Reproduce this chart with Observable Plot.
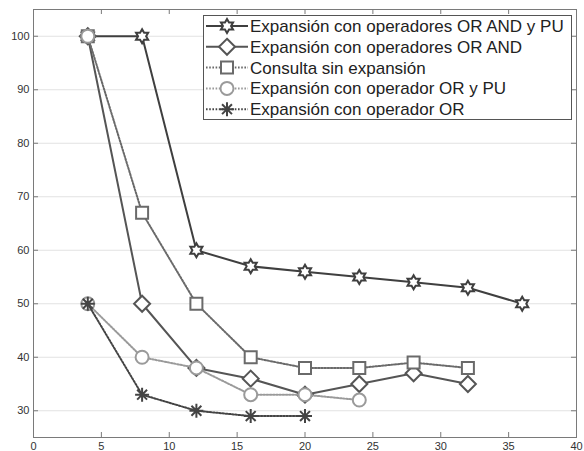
<!DOCTYPE html>
<html><head><meta charset="utf-8">
<script src="https://cdn.jsdelivr.net/npm/d3@7"></script>
<script src="https://cdn.jsdelivr.net/npm/@observablehq/plot@0.6"></script>
<style>
body{margin:0;background:#fff}
#chart{width:584px;height:451px}
</style>
</head><body><div id="chart"></div>
<script>
// ---- data ----
const xTicks = [0, 5, 10, 15, 20, 25, 30, 35, 40];
const yTicks = [30, 40, 50, 60, 70, 80, 90, 100];
const seriesNames = [
  "Expansión con operadores OR AND y PU",
  "Expansión con operadores OR AND",
  "Consulta sin expansión",
  "Expansión con operador OR y PU",
  "Expansión con operador OR"
];
const xStar = [4, 8, 12, 16, 20, 24, 28, 32, 36];
const yStar = [100, 100, 60, 57, 56, 55, 54, 53, 50];
const xDiamond = [4, 8, 12, 16, 20, 24, 28, 32];
const yDiamond = [100, 50, 38, 36, 33, 35, 37, 35];
const xSquare = [4, 8, 12, 16, 20, 24, 28, 32];
const ySquare = [100, 67, 50, 40, 38, 38, 39, 38];
const xCircle = [4, 8, 12, 16, 20, 24];
const yCircle = [50, 40, 38, 33, 33, 32];
const xCircleExtra = [4];
const yCircleExtra = [100];
const xAsterisk = [4, 8, 12, 16, 20];
const yAsterisk = [50, 33, 30, 29, 29];

// ---- symbols ----
const hexagram = {draw(ctx, size) {
  const R = Math.sqrt(size / Math.PI), r = R / Math.sqrt(3);
  for (let k = 0; k < 12; k++) {
    const a = -Math.PI / 2 + k * Math.PI / 6, rad = k % 2 ? r : R;
    const px = rad * Math.cos(a), py = rad * Math.sin(a);
    k ? ctx.lineTo(px, py) : ctx.moveTo(px, py);
  }
  ctx.closePath();
}};
const diamond = {draw(ctx, size) {
  const R = Math.sqrt(size / Math.PI);
  ctx.moveTo(0, -R); ctx.lineTo(R, 0); ctx.lineTo(0, R); ctx.lineTo(-R, 0); ctx.closePath();
}};
const square = {draw(ctx, size) {
  const R = Math.sqrt(size / Math.PI);
  ctx.moveTo(-R, -R); ctx.lineTo(R, -R); ctx.lineTo(R, R); ctx.lineTo(-R, R); ctx.closePath();
}};
const circle = {draw(ctx, size) {
  const R = Math.sqrt(size / Math.PI);
  ctx.moveTo(R, 0); ctx.arc(0, 0, R, 0, 2 * Math.PI); ctx.closePath();
}};
const asterisk = {draw(ctx, size) {
  const R = Math.sqrt(size / Math.PI), d = R * Math.SQRT1_2;
  ctx.moveTo(0, -R); ctx.lineTo(0, R);
  ctx.moveTo(-R, 0); ctx.lineTo(R, 0);
  ctx.moveTo(-d, -d); ctx.lineTo(d, d);
  ctx.moveTo(-d, d); ctx.lineTo(d, -d);
}};

const styles = [
  {x: xStar, y: yStar, symbol: hexagram, r: 7, stroke: "#3f3f3f", dash: null},
  {x: xDiamond, y: yDiamond, symbol: diamond, r: 8, stroke: "#555555", dash: null},
  {x: xSquare, y: ySquare, symbol: square, r: 6, stroke: "#6a6a6a", dash: "1.6,1.6"},
  {x: xCircle, y: yCircle, symbol: circle, r: 6.5, stroke: "#9a9a9a", dash: "1.6,1.6"},
  {x: xAsterisk, y: yAsterisk, symbol: asterisk, r: 7, stroke: "#444444", dash: "1.6,1.6"}
];

const rows = s => s.x.map((x, i) => ({x, y: s.y[i]}));

const W = 584, H = 451, mL = 33, mR = 8, mT = 9, mB = 14;
const plotH = H - mT - mB, plotW = W - mL - mR;
const tick = 5;

const marks = [
  Plot.gridY(yTicks, {stroke: "#e2e2e2", strokeOpacity: 1}),
  Plot.ruleX(xTicks.slice(1, -1), {x: d => d, insetTop: plotH - tick, stroke: "#7a7a7a"}),
  Plot.ruleX(xTicks.slice(1, -1), {x: d => d, insetBottom: plotH - tick, stroke: "#7a7a7a"}),
  Plot.ruleY(yTicks, {y: d => d, insetRight: plotW - tick, stroke: "#7a7a7a"}),
  Plot.ruleY(yTicks, {y: d => d, insetLeft: plotW - tick, stroke: "#7a7a7a"}),
  Plot.frame({stroke: "#7a7a7a"}),
  Plot.axisX(xTicks, {tickSize: 0, tickPadding: 5, fontSize: 11, fill: "#333", label: null}),
  Plot.axisY(yTicks, {tickSize: 0, tickPadding: 4, fontSize: 11, fill: "#333", label: null})
];
styles.forEach((s, i) => {
  marks.push(Plot.line(rows(s), {x: "x", y: "y", stroke: s.stroke, strokeWidth: 2, strokeDasharray: s.dash}));
  marks.push(Plot.dot(rows(s), {x: "x", y: "y", symbol: s.symbol, r: s.r, stroke: s.stroke, strokeWidth: 2, fill: "white"}));
  if (i === 3) {
    marks.push(Plot.dot(rows({x: xCircleExtra, y: yCircleExtra}), {x: "x", y: "y", symbol: s.symbol, r: s.r, stroke: s.stroke, strokeWidth: 2, fill: "white"}));
  }
});

const chart = Plot.plot({
  width: W, height: H,
  marginLeft: mL, marginRight: mR, marginTop: mT, marginBottom: mB,
  style: {fontFamily: "'Liberation Sans', Arial, sans-serif", background: "#fff"},
  x: {domain: [0, 40], axis: null},
  y: {domain: [25, 105], axis: null},
  marks
});
document.getElementById("chart").appendChild(chart);

// ---- legend (inside plot, top right) ----
const svg = d3.select(chart);
const lg = svg.append("g").attr("font-family", "'Liberation Sans', Arial, sans-serif").attr("text-anchor", "start");
const box = {x: 203, y: 15, w: 368, h: 104};
lg.append("rect").attr("x", box.x + 0.5).attr("y", box.y + 0.5).attr("width", box.w).attr("height", box.h)
  .attr("fill", "white").attr("stroke", "#555").attr("stroke-width", 1);
seriesNames.forEach((name, i) => {
  const s = styles[i];
  const cy = box.y + 11 + i * 20.8;
  lg.append("line").attr("x1", box.x + 3).attr("x2", box.x + 45).attr("y1", cy).attr("y2", cy)
    .attr("stroke", s.stroke).attr("stroke-width", 2).attr("stroke-dasharray", s.dash);
  lg.append("path").attr("transform", `translate(${box.x + 24},${cy})`)
    .attr("d", d3.symbol(s.symbol, s.r * s.r * Math.PI)())
    .attr("fill", "white").attr("stroke", s.stroke).attr("stroke-width", 2);
  lg.append("text").attr("x", box.x + 47).attr("y", cy).attr("dy", "0.35em")
    .attr("font-size", 17).attr("fill", "#222").text(name);
});
</script>
</body></html>
